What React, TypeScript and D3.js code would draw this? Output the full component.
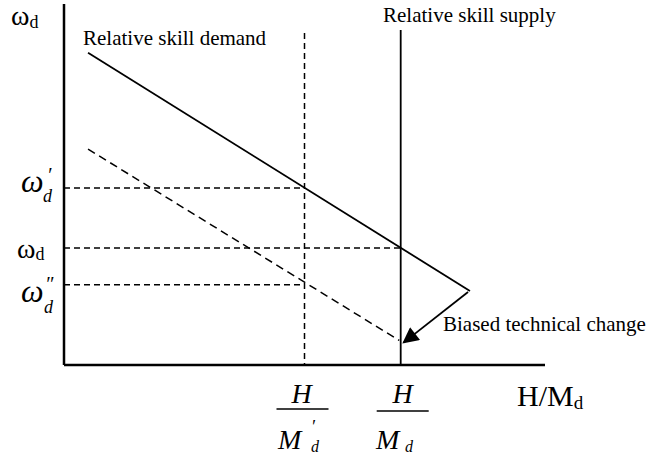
import * as d3 from "d3";

// abstract diagram units: x 0..10 along H/M_d, y 0..10 along ω_d
const demandOld = [
  { x: 0.5, y: 8.65 },
  { x: 8.44, y: 2.05 },
];
const demandNew = [
  { x: 0.5, y: 5.98 },
  { x: 6.97, y: 0.68 },
];
const supplyX = 7.0;
const supplyTop = 9.28;
const supplyPrimeX = 5.0;
const supplyPrimeTop = 9.2;
const wagePrime = 4.9;
const wage = 3.24;
const wageDoublePrime = 2.22;
const shiftArrow = [
  { x: 8.4, y: 2.02 },
  { x: 7.06, y: 0.62 },
];

export default function App() {
  const width = 648;
  const height = 456;
  const x = d3.scaleLinear().domain([0, 10]).range([64, 545]);
  const y = d3.scaleLinear().domain([0, 10]).range([365, 4]);
  const line = d3
    .line<{ x: number; y: number }>()
    .x((d) => x(d.x))
    .y((d) => y(d.y));
  const font = "'Liberation Serif', 'Times New Roman', serif";
  const dash = "6,4";

  return (
    <svg
      width={width}
      height={height}
      style={{ position: "absolute", left: 0, top: 0, background: "#fff" }}
      fontFamily={font}
    >
      <defs>
        <marker
          id="head"
          viewBox="0 0 10 10"
          refX={9}
          refY={5}
          markerWidth={11}
          markerHeight={9}
          markerUnits="strokeWidth"
          orient="auto"
        >
          <path d="M0,0 L10,5 L0,10 Z" fill="#000" />
        </marker>
      </defs>

      {/* axes */}
      <line x1={x(0)} x2={x(0)} y1={y(10)} y2={y(0)} stroke="#000" strokeWidth={2.5} />
      <line x1={x(0)} x2={x(10)} y1={y(0)} y2={y(0)} stroke="#000" strokeWidth={2.5} />

      {/* horizontal guides */}
      <line x1={x(0)} x2={x(supplyPrimeX)} y1={y(wagePrime)} y2={y(wagePrime)} stroke="#000" strokeWidth={1.5} strokeDasharray={dash} />
      <line x1={x(0)} x2={x(supplyX)} y1={y(wage)} y2={y(wage)} stroke="#000" strokeWidth={1.5} strokeDasharray={dash} />
      <line x1={x(0)} x2={x(supplyPrimeX)} y1={y(wageDoublePrime)} y2={y(wageDoublePrime)} stroke="#000" strokeWidth={1.5} strokeDasharray={dash} />

      {/* supply curves */}
      <line x1={x(supplyPrimeX)} x2={x(supplyPrimeX)} y1={y(supplyPrimeTop)} y2={y(0)} stroke="#000" strokeWidth={1.5} strokeDasharray={dash} />
      <line x1={x(supplyX)} x2={x(supplyX)} y1={y(supplyTop)} y2={y(0)} stroke="#000" strokeWidth={1.8} />

      {/* demand curves */}
      <path d={line(demandOld) ?? ""} stroke="#000" strokeWidth={1.8} fill="none" />
      <path d={line(demandNew) ?? ""} stroke="#000" strokeWidth={1.5} fill="none" strokeDasharray="8,5" />

      {/* biased technical change arrow */}
      <path d={line(shiftArrow) ?? ""} stroke="#000" strokeWidth={1.8} fill="none" markerEnd="url(#head)" />

      {/* curve labels */}
      <text x={83} y={45} fontSize={21}>Relative skill demand</text>
      <text x={383} y={22} fontSize={21}>Relative skill supply</text>
      <text x={443} y={331} fontSize={21}>Biased technical change</text>

      {/* y axis title */}
      <text x={11} y={25} fontSize={28}>
        ω<tspan fontSize={18} dy={3}>d</tspan>
      </text>

      {/* y ticks */}
      <text x={21} y={y(wagePrime) + 4} fontSize={32} fontStyle="italic">
        ω<tspan x={47} dy={-10} fontSize={20}>′</tspan>
        <tspan x={43} dy={20} fontSize={18}>d</tspan>
      </text>

      <text x={17} y={y(wage) + 10} fontSize={28}>
        ω<tspan fontSize={18} dy={2}>d</tspan>
      </text>

      <text x={21} y={y(wageDoublePrime) + 17} fontSize={32} fontStyle="italic">
        ω<tspan x={45} dy={-11} fontSize={20}>″</tspan>
        <tspan x={44} dy={22} fontSize={18}>d</tspan>
      </text>

      {/* x ticks: fractions */}
      <text x={x(supplyPrimeX) - 3} y={403} fontSize={28} fontStyle="italic" textAnchor="middle">H</text>
      <line x1={x(supplyPrimeX) - 28} x2={x(supplyPrimeX) + 24} y1={409} y2={409} stroke="#000" strokeWidth={1.5} />
      <text x={278} y={449} fontSize={28} fontStyle="italic">
        M<tspan x={311} dy={-16} fontSize={18}>′</tspan>
        <tspan x={311} dy={19} fontSize={16}>d</tspan>
      </text>

      <text x={x(supplyX) + 2} y={403} fontSize={28} fontStyle="italic" textAnchor="middle">H</text>
      <line x1={x(supplyX) - 24} x2={x(supplyX) + 28} y1={411} y2={411} stroke="#000" strokeWidth={1.5} />
      <text x={376} y={449} fontSize={28} fontStyle="italic">
        M<tspan x={405} dy={3} fontSize={16}>d</tspan>
      </text>

      {/* x axis title */}
      <text x={517} y={406} fontSize={30}>
        H/M<tspan fontSize={19} dy={3}>d</tspan>
      </text>
    </svg>
  );
}
